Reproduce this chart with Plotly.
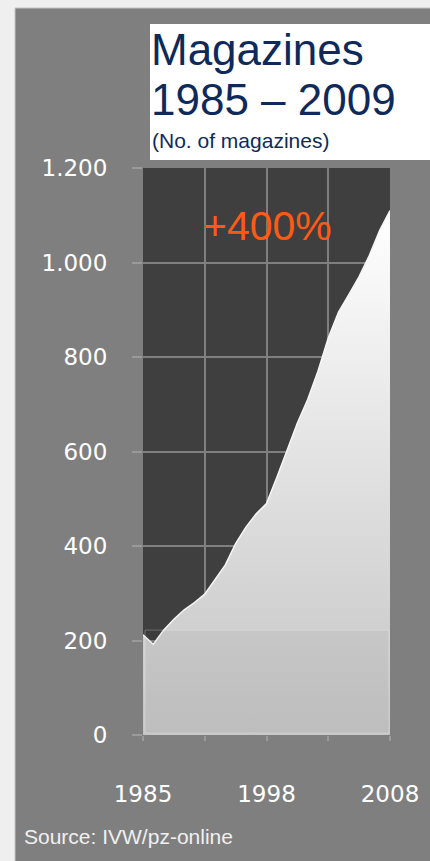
import plotly.graph_objects as go

# ---- data ----
years = list(range(1985, 2010))
magazines = [212, 192, 222, 245, 265, 280, 298, 328, 360, 405, 440, 468, 490,
             545, 603, 660, 710, 770, 840, 895, 932, 970, 1015, 1068, 1110]

y_tickvals = [0, 200, 400, 600, 800, 1000, 1200]
y_ticktext = ["0", "200", "400", "600", "800", "1.000", "1.200"]
x_tickvals = [1985, 1991, 1997, 2003, 2009]
x_ticktext = ["1985", "", "1998", "", "2008"]

title_lines = ["Magazines", "1985 \u2013 2009", "(No. of magazines)"]
growth_label = "+400%"
source_label = "Source: IVW/pz-online"

W, H = 430, 861
L, R, T, B = 143, 40, 168, 126
PW, PH = W - L - R, H - T - B


def px(x):
    return (x - L) / PW


def py(y):
    return (H - B - y) / PH


fig = go.Figure()
fig.add_trace(go.Scatter(
    x=years, y=magazines, mode="lines", fill="tozeroy",
    line=dict(color="#f6f6f6", width=1.5, shape="linear"),
    fillgradient=dict(type="vertical",
                      colorscale=[[0, "#c4c4c4"], [0.45, "#dedede"], [1, "#ffffff"]]),
    hoverinfo="skip", showlegend=False,
))

narrow = "Liberation Sans Narrow, Arial Narrow, Liberation Sans, Arial, sans-serif"
navy = "#0e2a5a"

shapes = [
    # grey panel
    dict(type="rect", xref="paper", yref="paper", x0=px(15), x1=px(W + 5),
         y0=py(H + 5), y1=py(8), fillcolor="#7f7f7f",
         line=dict(color="#c4c4c4", width=1), layer="below"),
    # plot area
    dict(type="rect", xref="paper", yref="paper", x0=0, x1=1, y0=0, y1=1,
         fillcolor="#3f3f3f", line=dict(width=0), layer="below"),
    # title box
    dict(type="rect", xref="paper", yref="paper", x0=px(150), x1=px(W + 5),
         y0=py(160), y1=py(24), fillcolor="#ffffff", line=dict(width=0),
         layer="below"),
    # subtle 3-D base band of the area
    dict(type="rect", xref="x", yref="y", x0=years[0] + 0.2, x1=years[-1] - 0.1,
         y0=4, y1=222, fillcolor="rgba(0,0,0,0.035)",
         line=dict(color="rgba(255,255,255,0.25)", width=1), layer="above"),
]

annotations = [
    dict(text=title_lines[0], x=px(149), y=py(50), xanchor="left", yanchor="middle",
         font=dict(family=narrow, size=44, color=navy)),
    dict(text=title_lines[1], x=px(149), y=py(99), xanchor="left", yanchor="middle",
         font=dict(family=narrow, size=44, color=navy)),
    dict(text=title_lines[2], x=px(150), y=py(140), xanchor="left", yanchor="middle",
         font=dict(family=narrow, size=21, color=navy)),
    dict(text=growth_label, x=px(267), y=py(226), xanchor="center", yanchor="middle",
         font=dict(family=narrow, size=41, color="#ff5a14")),
    dict(text=source_label, x=px(22), y=py(836), xanchor="left", yanchor="middle",
         font=dict(family=narrow, size=21, color="#f0f0f0")),
]
for a in annotations:
    a.update(xref="paper", yref="paper", showarrow=False)

fig.update_layout(
    width=W, height=H,
    margin=dict(l=L, r=R, t=T, b=B, pad=0),
    paper_bgcolor="#efefef",
    plot_bgcolor="rgba(0,0,0,0)",
    shapes=shapes,
    annotations=annotations,
    showlegend=False,
    xaxis=dict(range=[1985, 2009], tickmode="array", tickvals=x_tickvals,
               ticktext=x_ticktext, showgrid=True, gridcolor="#7f7f7f", gridwidth=2,
               ticks="outside", ticklen=5, tickcolor="#9a9a9a", tickwidth=1.5,
               ticklabelstandoff=33, zeroline=False, showline=False,
               tickfont=dict(family="DejaVu Sans", size=23, color="#ffffff"),
               fixedrange=True),
    yaxis=dict(range=[0, 1200], tickmode="array", tickvals=y_tickvals,
               ticktext=y_ticktext, showgrid=True, gridcolor="#7f7f7f", gridwidth=2,
               ticks="outside", ticklen=10, tickcolor="#9a9a9a", tickwidth=1.5,
               ticklabelstandoff=20, zeroline=False, showline=False,
               tickfont=dict(family="DejaVu Sans", size=23, color="#ffffff"),
               fixedrange=True),
)

fig.write_html("out.html")
